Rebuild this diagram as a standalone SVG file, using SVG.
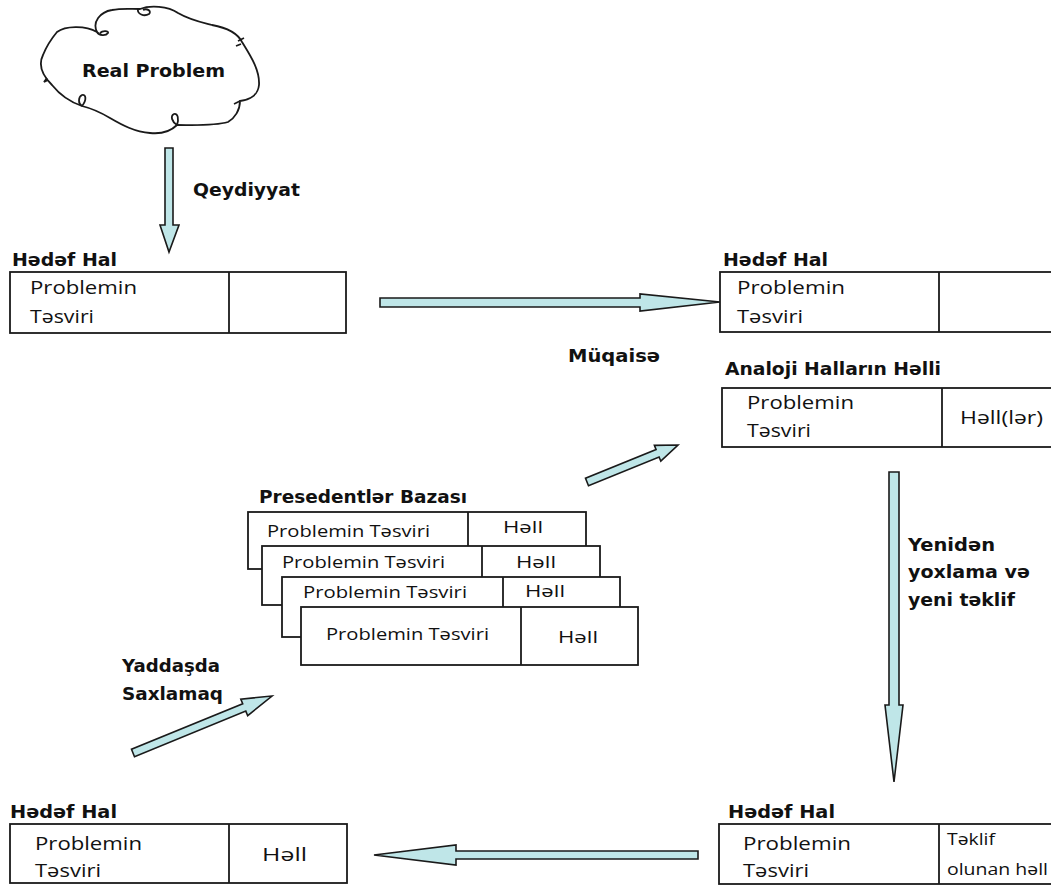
<svg xmlns="http://www.w3.org/2000/svg" width="1051" height="886" viewBox="0 0 1051 886">
<style>
.bx{fill:#fff;stroke:#1a1a1a;stroke-width:1.8}
.ln{stroke:#1a1a1a;stroke-width:1.8;fill:none}
.ar{fill:#bfe6e8;stroke:#1a1a1a;stroke-width:1.6;stroke-linejoin:miter}
.b{font-family:"DejaVu Sans",Verdana,sans-serif;font-weight:bold;font-size:17px;fill:#111}
.r{font-family:"Open Sans","Noto Sans",sans-serif;font-size:19px;fill:#111}
.s{font-family:"Open Sans","Noto Sans",sans-serif;font-size:17px;fill:#111}
</style>
<rect width="1051" height="886" fill="#fff"/>

<g id="real-problem">
<path class="ln" stroke-width="2" d="M57,32 C65,26 85,25 97,32 C92,22 100,12 112,10 C122,8 130,9 140,9 C150,5 168,6 178,13 C190,20 200,22 212,25 C228,28 238,34 242,42 C250,55 260,70 259,85 C258,95 250,100 240,101 C240,110 235,118 228,122 C215,126 195,125 177,125 C170,132 160,134 150,133 C135,132 122,125 110,118 C100,112 90,108 82,106 C70,102 60,95 52,85 C42,75 38,65 43,55 C47,45 52,38 57,32 Z"/>
<path class="ln" stroke-width="2" d="M97,32 C99,36 106,36 108,33 C109,31 103,30 100,33"/>
<path class="ln" stroke-width="2" d="M138,9 C137,14 144,17 149,14 C152,11 147,8 143,10"/>
<path class="ln" stroke-width="2" d="M238,41 L244,38 M236,46 L241,44"/>
<path class="ln" stroke-width="2" d="M240,101 L234,104"/>
<path class="ln" stroke-width="2" d="M177,125 C172,122 170,116 174,114 C178,113 179,119 177,125"/>
<path class="ln" stroke-width="2" d="M82,106 C78,104 78,97 82,95 C86,94 87,100 82,106"/>
<path class="ln" stroke-width="2" d="M48,80 L44,82 L47,78"/>
<text class="b" x="82" y="77" textLength="143" lengthAdjust="spacingAndGlyphs">Real Problem</text>
</g>

<g id="connectors">
<polygon class="ar" points="165,148 173,148 173,225 179,225 169,252 160,225 165,225"/>
<polygon class="ar" points="380,298 640,298 640,294 720,302 640,311 640,307 380,307"/>
<polygon class="ar" points="588.5,485.7 585.5,478.3 656.1,449.6 654.4,445.4 678,445 660.8,461.2 659.1,457"/>
<polygon class="ar" points="889,472 899,472 899,705 903,705 894,782 885,705 889,705"/>
<polygon class="ar" points="698,851 456,851 456,845 374,855 456,865 456,859 698,859"/>
<polygon class="ar" points="134.5,756.7 131.5,749.3 242.7,703.7 240.8,699.1 272,696 247.7,715.7 245.8,711.1"/>
<text class="b" x="193" y="196" textLength="107" lengthAdjust="spacingAndGlyphs">Qeydiyyat</text>
<text class="b" x="568" y="362" textLength="92" lengthAdjust="spacingAndGlyphs">Müqaisə</text>
<text class="b" x="908" y="551" textLength="87" lengthAdjust="spacingAndGlyphs">Yenidən</text>
<text class="b" x="908" y="578" textLength="122" lengthAdjust="spacingAndGlyphs">yoxlama və</text>
<text class="b" x="908" y="606" textLength="107" lengthAdjust="spacingAndGlyphs">yeni təklif</text>
<text class="b" x="122" y="672" textLength="98" lengthAdjust="spacingAndGlyphs">Yaddaşda</text>
<text class="b" x="122" y="700" textLength="101" lengthAdjust="spacingAndGlyphs">Saxlamaq</text>
</g>

<g id="target-case-1">
<text class="b" x="12" y="266" textLength="105" lengthAdjust="spacingAndGlyphs">Hədəf Hal</text>
<rect class="bx" x="10" y="272" width="336" height="61"/>
<line class="ln" x1="229" y1="272" x2="229" y2="333"/>
<text class="r" x="30" y="294" textLength="107" lengthAdjust="spacingAndGlyphs">Problemin</text>
<text class="r" x="30" y="323" textLength="64" lengthAdjust="spacingAndGlyphs">Təsviri</text>
</g>

<g id="target-case-2">
<text class="b" x="723" y="266" textLength="105" lengthAdjust="spacingAndGlyphs">Hədəf Hal</text>
<rect class="bx" x="720" y="272" width="345" height="60"/>
<line class="ln" x1="939" y1="272" x2="939" y2="332"/>
<text class="r" x="737" y="294" textLength="108" lengthAdjust="spacingAndGlyphs">Problemin</text>
<text class="r" x="737" y="323" textLength="66" lengthAdjust="spacingAndGlyphs">Təsviri</text>
</g>

<g id="analog-cases">
<text class="b" x="725" y="375" textLength="216" lengthAdjust="spacingAndGlyphs">Analoji Halların Həlli</text>
<rect class="bx" x="722" y="388" width="345" height="59"/>
<line class="ln" x1="942" y1="388" x2="942" y2="447"/>
<text class="r" x="747" y="409" textLength="107" lengthAdjust="spacingAndGlyphs">Problemin</text>
<text class="r" x="747" y="437" textLength="64" lengthAdjust="spacingAndGlyphs">Təsviri</text>
<text class="r" x="960" y="424" textLength="83" lengthAdjust="spacingAndGlyphs">Həll(lər)</text>
</g>

<g id="case-base">
<text class="b" x="259" y="503" textLength="208" lengthAdjust="spacingAndGlyphs">Presedentlər Bazası</text>
<rect class="bx" x="248" y="512" width="338" height="57"/>
<line class="ln" x1="468" y1="512" x2="468" y2="546"/>
<text class="s" x="267" y="537" textLength="163" lengthAdjust="spacingAndGlyphs">Problemin Təsviri</text>
<text class="s" x="503" y="533" textLength="40" lengthAdjust="spacingAndGlyphs">Həll</text>
<rect class="bx" x="262" y="546" width="338" height="59"/>
<line class="ln" x1="482" y1="546" x2="482" y2="577"/>
<text class="s" x="282" y="568" textLength="163" lengthAdjust="spacingAndGlyphs">Problemin Təsviri</text>
<text class="s" x="516" y="568" textLength="40" lengthAdjust="spacingAndGlyphs">Həll</text>
<rect class="bx" x="282" y="577" width="338" height="60"/>
<line class="ln" x1="503" y1="577" x2="503" y2="607"/>
<text class="s" x="303" y="598" textLength="164" lengthAdjust="spacingAndGlyphs">Problemin Təsviri</text>
<text class="s" x="525" y="597" textLength="40" lengthAdjust="spacingAndGlyphs">Həll</text>
<rect class="bx" x="301" y="607" width="337" height="58"/>
<line class="ln" x1="521" y1="607" x2="521" y2="665"/>
<text class="s" x="326" y="640" textLength="163" lengthAdjust="spacingAndGlyphs">Problemin Təsviri</text>
<text class="s" x="558" y="643" textLength="40" lengthAdjust="spacingAndGlyphs">Həll</text>
</g>

<g id="target-case-3">
<text class="b" x="10" y="818" textLength="107" lengthAdjust="spacingAndGlyphs">Hədəf Hal</text>
<rect class="bx" x="10" y="824" width="337" height="59"/>
<line class="ln" x1="229" y1="824" x2="229" y2="883"/>
<text class="r" x="35" y="850" textLength="107" lengthAdjust="spacingAndGlyphs">Problemin</text>
<text class="r" x="35" y="877" textLength="66" lengthAdjust="spacingAndGlyphs">Təsviri</text>
<text class="r" x="262" y="861" textLength="45" lengthAdjust="spacingAndGlyphs">Həll</text>
</g>

<g id="target-case-4">
<text class="b" x="728" y="818" textLength="107" lengthAdjust="spacingAndGlyphs">Hədəf Hal</text>
<rect class="bx" x="719" y="824" width="345" height="60"/>
<line class="ln" x1="939" y1="824" x2="939" y2="884"/>
<text class="r" x="743" y="850" textLength="108" lengthAdjust="spacingAndGlyphs">Problemin</text>
<text class="r" x="743" y="877" textLength="66" lengthAdjust="spacingAndGlyphs">Təsviri</text>
<text class="s" x="947" y="845" textLength="48" lengthAdjust="spacingAndGlyphs">Təklif</text>
<text class="s" x="947" y="875" textLength="101" lengthAdjust="spacingAndGlyphs">olunan həll</text>
</g>
</svg>
